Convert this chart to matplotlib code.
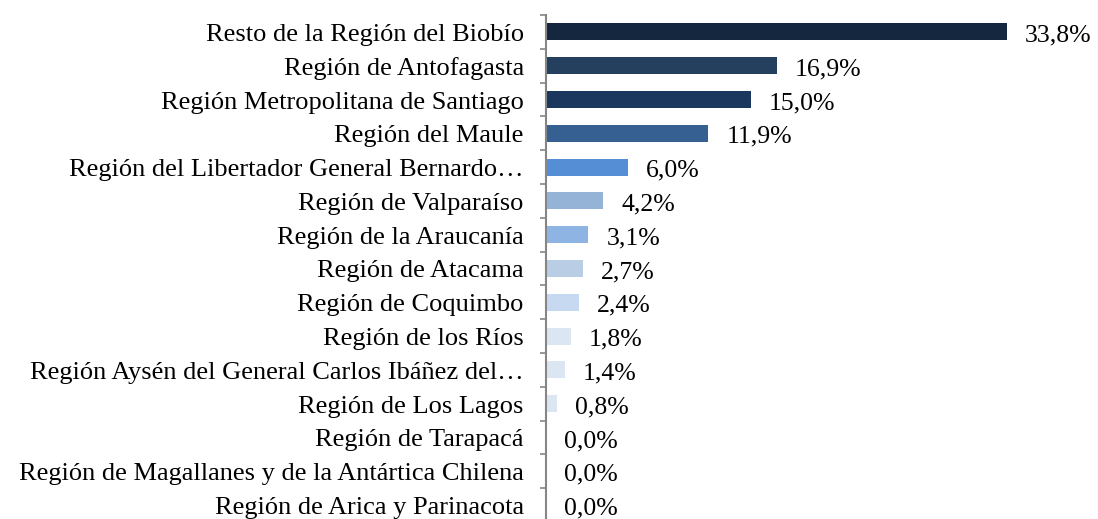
import matplotlib
matplotlib.use("Agg")
import matplotlib.pyplot as plt
import matplotlib.transforms as mtransforms

categories = [
    "Resto de la Región del Biobío",
    "Región de Antofagasta",
    "Región Metropolitana de Santiago",
    "Región del Maule",
    "Región del Libertador General Bernardo…",
    "Región de Valparaíso",
    "Región de la Araucanía",
    "Región de Atacama",
    "Región de Coquimbo",
    "Región de los Ríos",
    "Región Aysén del General Carlos Ibáñez del…",
    "Región de Los Lagos",
    "Región de Tarapacá",
    "Región de Magallanes y de la Antártica Chilena",
    "Región de Arica y Parinacota",
]
values = [33.8, 16.9, 15.0, 11.9, 6.0, 4.2, 3.1, 2.7, 2.4, 1.8, 1.4, 0.8, 0.0, 0.0, 0.0]
colors = ["#14273f", "#253f5f", "#1b375d", "#376092", "#558ed5", "#95b3d7",
          "#8eb4e3", "#b9cde5", "#c6d9f1", "#dce6f2", "#dce6f2", "#dce6f2",
          "#dce6f2", "#dce6f2", "#dce6f2"]

plt.rcParams['font.family'] = ['Liberation Serif', 'DejaVu Serif']

W, H = 1098, 519
fig = plt.figure(figsize=(W / 100, H / 100), dpi=100)
left = 546 / W
top_px, bot_px = 15, 522
ax = fig.add_axes([left, (H - bot_px) / H, 545.6 / W, (bot_px - top_px) / H])

y = list(range(len(categories)))
ax.barh(y, values, height=0.5, color=colors)
ax.set_ylim(len(categories) - 0.5, -0.5)
ax.set_xlim(0, 40)

for yi, v in zip(y, values):
    ax.annotate(f"{v:.1f}%".replace(".", ","), xy=(v, yi), xytext=(13, -2.5),
                textcoords="offset points", va="center", ha="left",
                fontsize=18.5, color="black", annotation_clip=False)

ax.set_yticks([i - 0.5 for i in range(len(categories) + 1)], minor=False)
ax.set_yticklabels([])
ax.set_yticks(y, minor=True)
ax.set_yticklabels(categories, minor=True, fontsize=19, va="center")
ax.tick_params(axis='y', which='major', length=4.5, width=1.2, color="#868686", direction='out')
ax.tick_params(axis='y', which='minor', length=0, pad=16)
offset = mtransforms.ScaledTranslation(0, -3 / 100, fig.dpi_scale_trans)
for lbl in ax.get_yticklabels(minor=True):
    lbl.set_transform(lbl.get_transform() + offset)
ax.set_xticks([])
for s in ["top", "right", "bottom"]:
    ax.spines[s].set_visible(False)
ax.spines["left"].set_color("#868686")
ax.spines["left"].set_linewidth(1.5)

fig.savefig("out.png", dpi=100)
